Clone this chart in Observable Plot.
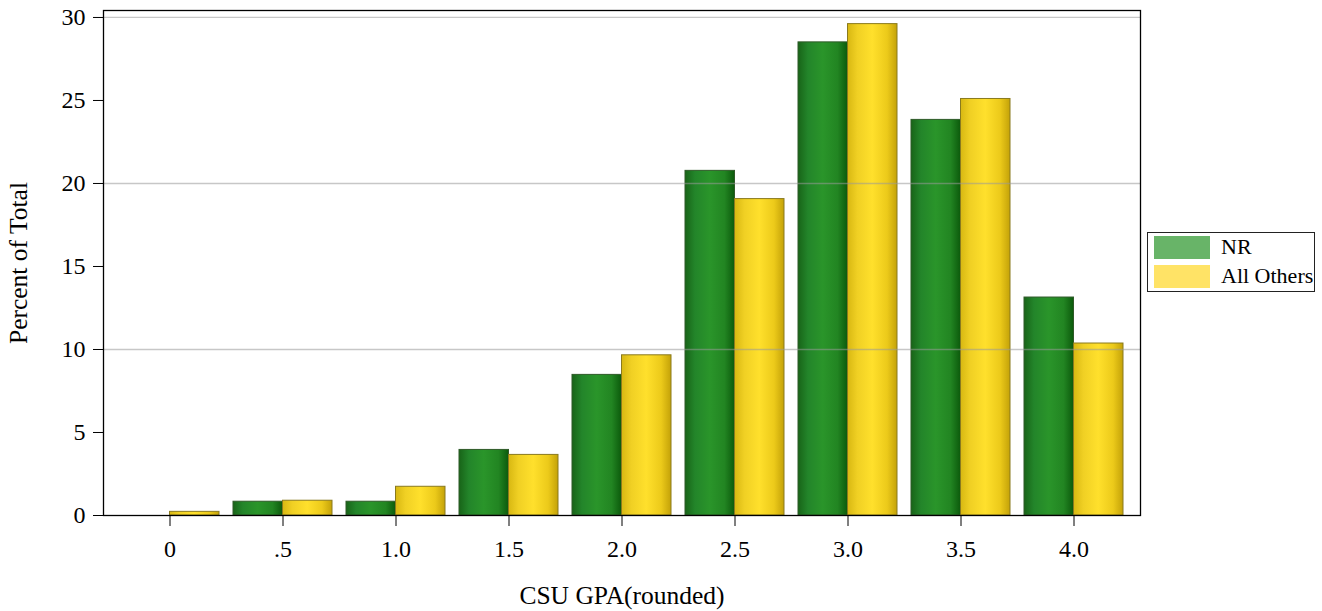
<!DOCTYPE html>
<html>
<head>
<meta charset="utf-8">
<script src="https://cdn.jsdelivr.net/npm/d3@7"></script>
<script src="https://cdn.jsdelivr.net/npm/@observablehq/plot@0.6"></script>
<style>
  html, body { margin: 0; padding: 0; background: #fff; }
  #wrap { position: relative; width: 1322px; height: 611px; font-family: "Liberation Serif", "Times New Roman", serif; }
  #legend { position: absolute; left: 1147px; top: 232px; width: 166px; height: 58px; border: 1px solid #222; background: #fff; }
  .item { position: absolute; left: 6px; height: 24px; display: flex; align-items: center; }
  .sw { width: 56px; height: 23px; margin-right: 11px; }
  .lab { font-size: 22px; color: #000; line-height: 24px; }
</style>
</head>
<body>
<div id="wrap"></div>
<script>
const categories = ["0", ".5", "1.0", "1.5", "2.0", "2.5", "3.0", "3.5", "4.0"];
const series = ["NR", "All Others"];
const nrValues = [0, 0.83, 0.83, 3.95, 8.47, 20.76, 28.5, 23.83, 13.13];
const otherValues = [0.22, 0.89, 1.73, 3.65, 9.65, 19.06, 29.6, 25.09, 10.36];
const yTicks = [0, 5, 10, 15, 20, 25, 30];
const gridValues = [10, 20, 30];
const legendColors = ["#68b468", "#ffe366"];

const nrData = categories.map((c, i) => ({cat: c, value: nrValues[i]})).filter(d => d.value > 0);
const otherData = categories.map((c, i) => ({cat: c, value: otherValues[i]})).filter(d => d.value > 0);

function build(half) {
  return Plot.plot({
    width: 1322, height: 611,
    marginTop: 10, marginBottom: 96, marginLeft: 103, marginRight: 182,
    style: {fontFamily: "'Liberation Serif', 'Times New Roman', serif", fontSize: "24px", color: "#000", background: "transparent", overflow: "visible"},
    x: {type: "band", domain: categories, paddingInner: 0.126, paddingOuter: 0.1415, label: null},
    y: {domain: [0, 30.42], label: null},
    marks: [
      Plot.barY(nrData, {x: "cat", y: "value", insetRight: half, fill: "url(#gradGreen)", stroke: "#2f5a28", strokeWidth: 1}),
      Plot.barY(otherData, {x: "cat", y: "value", insetLeft: half, fill: "url(#gradYellow)", stroke: "#8a7a1e", strokeWidth: 1}),
      Plot.gridY(gridValues, {stroke: "#999", strokeOpacity: 0.55, strokeWidth: 1.3}),
      Plot.frame({stroke: "#000", strokeWidth: 1.3}),
      Plot.axisY(yTicks, {tickSize: 10, tickPadding: 8, label: null, stroke: "#000"}),
      Plot.axisX({tickSize: 11, tickPadding: 13, label: null, stroke: "#000"}),
      Plot.text(["Percent of Total"], {text: d => d, frameAnchor: "left", dx: -85, rotate: -90, textAnchor: "middle", lineAnchor: "middle", fontSize: 25.5}),
      Plot.text(["CSU GPA(rounded)"], {text: d => d, frameAnchor: "bottom", dy: 80, textAnchor: "middle", lineAnchor: "middle", fontSize: 25.5})
    ]
  });
}

const probe = build(0);
const bw = probe.scale("x").bandwidth;
const chart = build(bw / 2);
const defs = document.createElementNS("http://www.w3.org/2000/svg", "defs");
defs.innerHTML = `
  <linearGradient id="gradGreen" x1="0" x2="1" y1="0" y2="0">
    <stop offset="0" stop-color="#186418"/>
    <stop offset="0.2" stop-color="#23852a"/>
    <stop offset="0.5" stop-color="#2a952a"/>
    <stop offset="0.8" stop-color="#228522"/>
    <stop offset="1" stop-color="#0c5a0c"/>
  </linearGradient>
  <linearGradient id="gradYellow" x1="0" x2="1" y1="0" y2="0">
    <stop offset="0" stop-color="#d8b812"/>
    <stop offset="0.2" stop-color="#f0d024"/>
    <stop offset="0.5" stop-color="#ffe02c"/>
    <stop offset="0.8" stop-color="#ecca1a"/>
    <stop offset="1" stop-color="#c4a208"/>
  </linearGradient>`;
chart.insertBefore(defs, chart.firstChild);

const wrap = document.getElementById("wrap");
wrap.appendChild(chart);

const legend = document.createElement("div");
legend.id = "legend";
series.forEach((s, i) => {
  const item = document.createElement("div");
  item.className = "item";
  item.style.top = (2 + i * 29) + "px";
  const sw = document.createElement("div");
  sw.className = "sw";
  sw.style.background = legendColors[i];
  const lab = document.createElement("span");
  lab.className = "lab";
  lab.textContent = s;
  item.appendChild(sw);
  item.appendChild(lab);
  legend.appendChild(item);
});
wrap.appendChild(legend);
</script>
</body>
</html>
